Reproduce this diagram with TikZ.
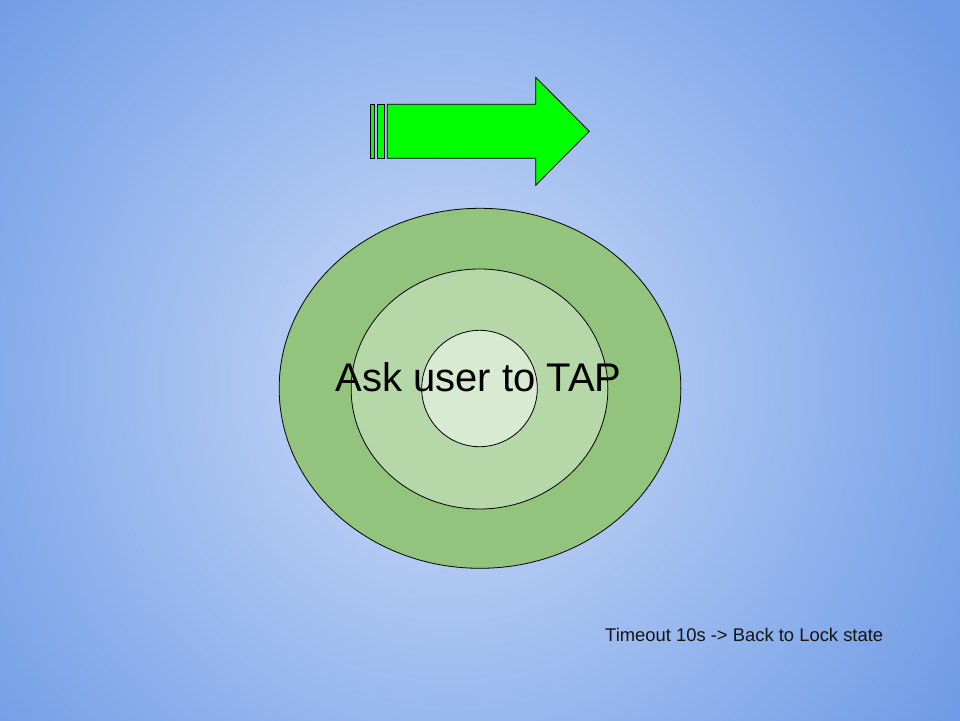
\documentclass[tikz,border=0pt]{standalone}
\usepackage{fontspec}
\setmainfont{Liberation Sans}
\usepackage{xcolor}
\usepackage{tikz}
\usetikzlibrary{shapes.geometric, positioning}
\definecolor{bgin}{HTML}{CDDCF8}
\definecolor{bgout}{HTML}{6E9BE6}
\definecolor{ringdark}{HTML}{93C47D}
\definecolor{ringmid}{HTML}{B6D7A8}
\definecolor{ringlight}{HTML}{D9EAD3}
\definecolor{arrowgreen}{HTML}{00FF00}
% 25bp is the rim of the shaded path
\pgfdeclareradialshading{slideglow}{\pgfpointorigin}{%
  color(0bp)=(bgin); color(22.4bp)=(bgout); color(50bp)=(bgout)}

\begin{document}
\begin{tikzpicture}[x=1pt, y=-1pt,
  ring/.style={ellipse, draw=black, line width=0.8pt, inner sep=0pt},
  bar/.style={draw=black, line width=0.8pt, fill=arrowgreen},
  big/.style={font=\fontsize{40}{44}\selectfont},
  note/.style={font=\fontsize{18.4}{22}\selectfont, text=black!92}
]
  \useasboundingbox (0,0) rectangle (960,720);
  % background glow
  \begin{scope}
    \clip (0,0) rectangle (960,720);
    \shade[shading=slideglow] (450,380) circle (680);
  \end{scope}

  % striped arrow
  \draw[bar] (370.3,104.3) rectangle (374.7,158.3);
  \draw[bar] (377.3,104.3) rectangle (384.3,158.3);
  \draw[bar] (387.3,104.3) -- (535.7,104.3) -- (535.7,77.3) -- (589.3,131.3)
    -- (535.7,185.3) -- (535.7,158.3) -- (387.3,158.3) -- cycle;

  % target rings
  \node[ring, fill=ringdark, minimum width=401.7pt, minimum height=360pt] (outer) at (480,388.3) {};
  \node[ring, fill=ringmid, minimum width=256.7pt, minimum height=240pt] (middle) at (479.5,389) {};
  \node[ring, fill=ringlight, minimum width=115.6pt, minimum height=116.4pt] (inner) at (479.5,388.5) {};

  \node[big, anchor=base, inner sep=0pt] (ask) at (478.5,391) {Ask user to TAP};
  \node[note, anchor=base west, inner sep=0pt] (timeout) at (605,641.7) {Timeout 10s -> Back to Lock state};
\end{tikzpicture}
\end{document}
